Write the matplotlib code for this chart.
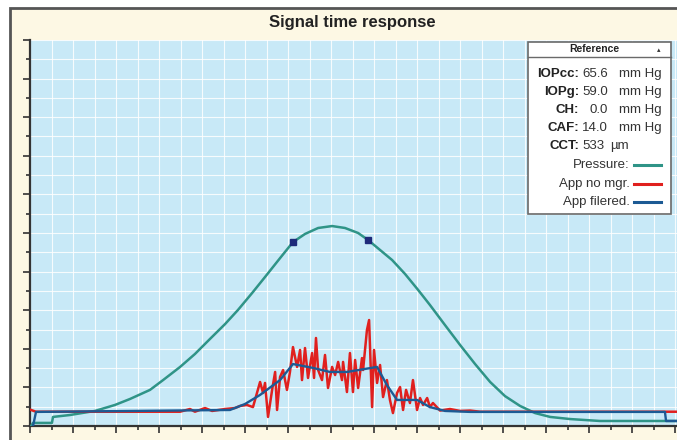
import numpy as np
import matplotlib
matplotlib.use("Agg")
import matplotlib.pyplot as plt
from matplotlib.patches import Rectangle
from matplotlib.lines import Line2D

plt.rcParams['font.family'] = ['Liberation Sans', 'DejaVu Sans']

# ---------------- data ----------------
pressure_x = [0.05, 0.14, 1.02, 1.07, 1.86, 3.02, 3.95, 4.65, 5.58, 6.19, 6.98, 7.67, 8.37,
              9.07, 9.67, 10.33, 10.93, 11.63, 12.23, 12.79, 13.40, 14.05, 14.65, 15.26,
              15.72, 16.28, 16.84, 17.44, 18.05, 18.60, 19.30, 20.00, 20.70, 21.40, 22.09,
              22.79, 23.49, 24.19, 25.12, 26.51, 30.09]
pressure_y = [0.00, 0.16, 0.16, 0.47, 0.57, 0.78, 1.09, 1.40, 1.87, 2.38, 3.06, 3.73, 4.51,
              5.28, 6.01, 6.89, 7.72, 8.70, 9.53, 9.95, 10.26, 10.36, 10.26, 10.00,
              9.64, 9.12, 8.60, 7.88, 7.05, 6.27, 5.23, 4.20, 3.21, 2.28, 1.55,
              1.04, 0.67, 0.47, 0.36, 0.26, 0.26]

marker_x = [12.23, 15.72]
marker_y = [9.53, 9.64]

raw_x = [0.00, 0.28, 6.98, 7.44, 7.67, 8.14, 8.47, 9.07, 9.53, 9.77, 10.09, 10.37, 10.70,
         10.84, 10.93, 11.07, 11.26, 11.40, 11.49, 11.63, 11.77, 11.95, 12.09, 12.23, 12.42,
         12.56, 12.65, 12.79, 12.93, 13.12, 13.21, 13.30, 13.40, 13.58, 13.72, 13.86, 14.05,
         14.19, 14.33, 14.51, 14.56, 14.74, 14.88, 15.02, 15.12, 15.26, 15.44, 15.49, 15.67,
         15.77, 15.91, 16.00, 16.14, 16.28, 16.42, 16.60, 16.74, 16.88, 17.07, 17.21, 17.35,
         17.49, 17.67, 17.81, 18.00, 18.14, 18.28, 18.47, 18.60, 18.74, 19.07, 19.53, 20.00,
         20.47, 20.93, 30.09]
raw_y = [0.85, 0.74, 0.74, 0.88, 0.74, 0.93, 0.78, 0.88, 0.93, 1.04, 1.09, 0.98, 2.28,
         1.71, 2.23, 0.47, 1.87, 2.80, 0.83, 2.54, 2.90, 1.87, 2.80, 4.09, 3.06,
         3.94, 2.38, 4.04, 2.49, 3.78, 2.49, 4.56, 2.90, 2.38, 3.68, 1.97, 3.06,
         2.64, 3.32, 2.38, 3.32, 1.76, 3.78, 1.76, 3.42, 1.97, 3.52, 2.90, 4.97,
         5.49, 0.98, 3.94, 2.23, 3.16, 1.50, 2.38, 1.35, 0.67, 1.71, 2.02, 0.83,
         1.87, 1.19, 2.38, 0.83, 1.45, 1.09, 1.45, 0.98, 1.19, 0.80, 0.88, 0.78,
         0.80, 0.74, 0.74]

filt_x = [0.14, 0.28, 9.30, 10.00, 10.70, 11.63, 12.23, 13.16, 13.95, 14.74, 16.14, 16.60,
          17.07, 18.00, 18.60, 19.30, 20.47, 29.53, 29.58, 30.09]
filt_y = [0.00, 0.73, 0.83, 1.14, 1.61, 2.38, 3.21, 3.01, 2.80, 2.80, 3.06, 2.12,
          1.35, 1.35, 0.98, 0.78, 0.73, 0.73, 0.26, 0.26]

info_labels = ["IOPcc:", "IOPg:", "CH:", "CAF:", "CCT:"]
info_values = ["65.6", "59.0", "0.0", "14.0", "533"]
info_units = ["mm Hg", "mm Hg", "mm Hg", "mm Hg", "µm"]
series_names = ["Pressure:", "App no mgr.", "App filered."]
title = "Signal time response"

# ---------------- styling ----------------
W, H = 677, 440
C_PRESS = '#2f9487'
C_RAW = '#e0201e'
C_FILT = '#1c5a94'

fig = plt.figure(figsize=(W / 100, H / 100), dpi=100)
fig.patch.set_facecolor('white')

def fx(px):
    return px / W

def fy(py):
    return 1 - py / H

# outer frame
fig.add_artist(Rectangle((fx(10), fy(460)), fx(700) - fx(10), fy(8) - fy(460),
                         transform=fig.transFigure, facecolor='#fdf8e4',
                         edgecolor='#555555', lw=2, zorder=-5))

ax = fig.add_axes([fx(30), fy(426), 1 - fx(30), fy(40) - fy(426)])
ax.set_facecolor('#c8e9f7')
ax.set_xlim(0, 30.09)
ax.set_ylim(0, 20)
ax.set_xticks(np.arange(0, 31, 2))
ax.set_xticks(np.arange(1, 31, 2), minor=True)
ax.set_yticks(np.arange(0, 21, 2))
ax.set_yticks(np.arange(1, 21, 2), minor=True)
ax.tick_params(which='major', direction='out', length=5, width=1.2, color='#333333',
               labelbottom=False, labelleft=False)
ax.tick_params(which='minor', direction='out', length=3, width=1.2, color='#333333')
ax.grid(which='both', color='white', lw=0.8, alpha=0.85)
ax.set_axisbelow(True)
for s in ['top', 'right']:
    ax.spines[s].set_visible(False)
for s in ['left', 'bottom']:
    ax.spines[s].set_color('#333333')
    ax.spines[s].set_linewidth(1.6)

ax.plot(pressure_x, pressure_y, color=C_PRESS, lw=1.8, zorder=3, solid_joinstyle='round')
ax.plot(raw_x, raw_y, color=C_RAW, lw=1.8, zorder=4)
ax.plot(filt_x, filt_y, color=C_FILT, lw=1.7, zorder=5)
ax.plot(marker_x, marker_y, 's', color='#1e2a7a', ms=5, zorder=6)

fig.text(fx(352), fy(22), title, ha='center', va='center', fontsize=12, fontweight='bold',
         color='#222222')

# info box
fig.add_artist(Rectangle((fx(528), fy(214)), fx(671) - fx(528), fy(42) - fy(214),
                         transform=fig.transFigure, facecolor='white', edgecolor='#6a6a6a',
                         lw=1.2, zorder=10))
fig.add_artist(Line2D([fx(528), fx(671)], [fy(57), fy(57)], transform=fig.transFigure,
                      color='#6a6a6a', lw=1.0, zorder=11))
fig.text(fx(594), fy(49.5), "Reference", ha='center', va='center', fontsize=7.5,
         fontweight='bold', color='#222222', zorder=12)
fig.text(fx(659), fy(50), "▴", ha='center', va='center', fontsize=5, color='#333333',
         family='DejaVu Sans', zorder=12)

rows = [74, 92, 110, 128, 146, 165, 184, 202]
FS = 9.5
for i in range(len(info_labels)):
    y = fy(rows[i])
    fig.text(fx(579), y, info_labels[i], ha='right', va='center', fontsize=FS,
             fontweight='bold', color='#222222', zorder=12)
    if info_units[i] == "µm":
        fig.text(fx(605), y, info_values[i], ha='right', va='center', fontsize=FS,
                 color='#333333', zorder=12)
        fig.text(fx(610), y, info_units[i], ha='left', va='center', fontsize=FS,
                 color='#333333', zorder=12)
    else:
        fig.text(fx(608), y, info_values[i], ha='right', va='center', fontsize=FS,
                 color='#333333', zorder=12)
        fig.text(fx(619), y, info_units[i], ha='left', va='center', fontsize=FS,
                 color='#333333', zorder=12)

for j, (name, col) in enumerate(zip(series_names, [C_PRESS, C_RAW, C_FILT])):
    y = fy(rows[5 + j])
    fig.text(fx(630), y, name, ha='right', va='center', fontsize=FS, color='#333333',
             zorder=12)
    fig.add_artist(Line2D([fx(634), fx(661)], [y, y], transform=fig.transFigure,
                          color=col, lw=2.2, zorder=12))

fig.savefig('out.png', dpi=100, facecolor=fig.get_facecolor())
